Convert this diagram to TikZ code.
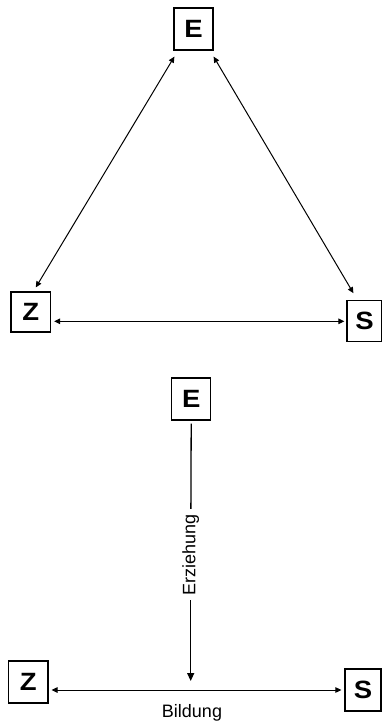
\documentclass[tikz,border=0pt]{standalone}
\usepackage{fontspec}
\setmainfont{Liberation Sans}
\newfontfamily\wideboldfont{Liberation Sans Bold}[FakeStretch=1.1]
\usetikzlibrary{arrows.meta}
\tikzset{
  letterbox/.style={draw, line width=1.2pt, inner sep=0pt, minimum width=39pt, minimum height=42pt,
    font=\wideboldfont\fontsize{25}{25}\selectfont},
  link/.style={line width=1pt, {Triangle[length=6pt,width=5.5pt]}-{Triangle[length=6pt,width=5.5pt]}},
  oneway/.style={line width=1.3pt, -{Triangle[length=8pt,width=7pt]}},
  plainline/.style={line width=1.3pt},
  lab/.style={font=\fontsize{18}{18}\selectfont, inner sep=0pt}
}
\begin{document}
\begin{tikzpicture}[x=1pt,y=-1pt]
\useasboundingbox (0,0) rectangle (382,722);
% upper triangle
\node[letterbox] (E) at (193.5,29) {E};
\node[letterbox, minimum width=39.5pt, minimum height=40pt] (Z) at (30.8,312) {Z};
\node[letterbox, minimum width=35pt, minimum height=41pt] (S) at (364.5,321.3) {S};
\draw[link] ([xshift=1pt,yshift=-6pt]E.south west) -- ([xshift=5pt,yshift=4pt]Z.north);
\draw[link] ([yshift=-6pt]E.south east) -- ([xshift=7pt,yshift=7pt]S.north west);
\draw[link] ([xshift=3pt]Z.east |- S.west) -- ([xshift=-2pt]S.west);
% lower figure
\node[letterbox] (E2) at (191.2,399) {E};
\node[letterbox, minimum width=39.3pt] (Z2) at (28.3,682) {Z};
\node[letterbox, minimum width=36pt] (S2) at (363,690) {S};
\node[lab, rotate=90, inner sep=5pt] (erz) at (190.7,554.5) {Erziehung};
\coordinate (tip) at (190.7,681);
\draw[plainline] ([yshift=-3pt]E2.south) -- (erz);
\draw[oneway] (erz) -- (tip);
\draw[link] ([xshift=3pt]Z2.east |- S2.west) -- ([xshift=-3pt]S2.west);
\node[lab, anchor=base] (bild) at (192,717.5) {Bildung};
\end{tikzpicture}
\end{document}
